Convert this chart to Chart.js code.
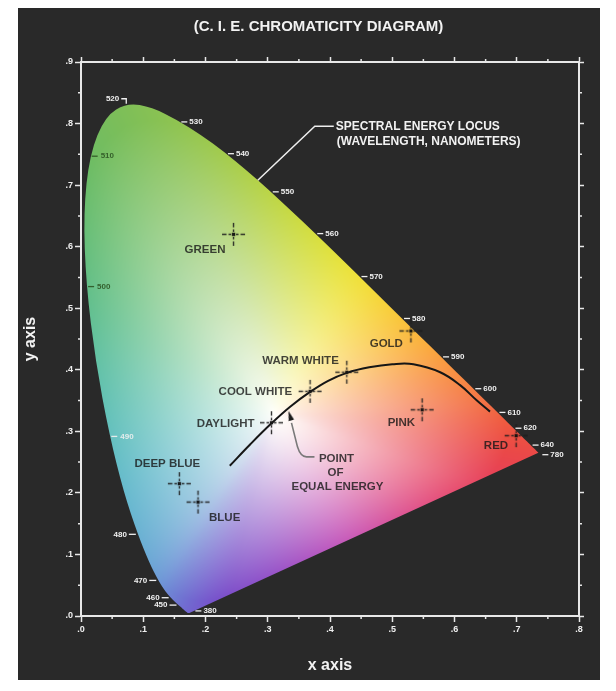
<!DOCTYPE html>
<html>
<head>
<meta charset="utf-8">
<title>C.I.E. Chromaticity Diagram</title>
<script src="https://cdn.jsdelivr.net/npm/chart.js@4.4.1/dist/chart.umd.min.js"></script>
<style>
html,body{margin:0;padding:0;background:#ffffff;}
#wrap{width:616px;height:691px;position:relative;}
canvas{display:block;}
</style>
</head>
<body>
<div id="wrap"><canvas id="chart" width="616" height="691"></canvas></div>
<script>
// ================= DATA =================
// Spectral locus (chromaticity x, y per wavelength, nm)
const locusWavelengths = [380,385,390,395,400,405,410,415,420,425,430,435,440,445,450,455,460,465,470,475,480,485,490,495,500,505,510,515,520,525,530,535,540,545,550,555,560,565,570,575,580,585,590,595,600,605,610,615,620,625,630,635,640,645,650,660,670,680,700,780];
const locusX = [0.1741,0.1740,0.1738,0.1736,0.1733,0.1730,0.1726,0.1721,0.1714,0.1703,0.1689,0.1669,0.1644,0.1611,0.1566,0.1510,0.1440,0.1355,0.1241,0.1096,0.0913,0.0687,0.0454,0.0235,0.0082,0.0039,0.0139,0.0389,0.0743,0.1142,0.1547,0.1929,0.2296,0.2658,0.3016,0.3373,0.3731,0.4087,0.4441,0.4788,0.5125,0.5448,0.5752,0.6029,0.6270,0.6482,0.6658,0.6801,0.6915,0.7006,0.7079,0.7140,0.7190,0.7230,0.7260,0.7300,0.7320,0.7334,0.7347,0.7347];
const locusY = [0.0050,0.0050,0.0049,0.0049,0.0048,0.0048,0.0048,0.0048,0.0051,0.0058,0.0069,0.0086,0.0109,0.0138,0.0177,0.0227,0.0297,0.0399,0.0578,0.0868,0.1327,0.2007,0.2950,0.4127,0.5384,0.6548,0.7502,0.8120,0.8338,0.8262,0.8059,0.7816,0.7543,0.7243,0.6923,0.6589,0.6245,0.5896,0.5547,0.5202,0.4866,0.4544,0.4242,0.3965,0.3725,0.3514,0.3340,0.3197,0.3083,0.2993,0.2920,0.2859,0.2809,0.2770,0.2740,0.2700,0.2680,0.2666,0.2653,0.2653];
// Wavelengths that carry a label on the locus
const labeledWavelengths = [380,450,460,470,480,490,500,510,520,530,540,550,560,570,580,590,600,610,620,640,780];
// Black-body (white) curve
const planckX = [0.239,0.272,0.306,0.336,0.368,0.397,0.427,0.463,0.500,0.534,0.577,0.609,0.636,0.657];
const planckY = [0.244,0.279,0.313,0.340,0.364,0.382,0.395,0.404,0.409,0.409,0.396,0.375,0.350,0.332];
// Named colour points
const markerNames = ['GREEN','GOLD','WARM WHITE','COOL WHITE','DAYLIGHT','PINK','RED','DEEP BLUE','BLUE'];
const markerX = [0.245,0.530,0.427,0.368,0.306,0.548,0.699,0.158,0.188];
const markerY = [0.620,0.463,0.396,0.365,0.314,0.335,0.293,0.215,0.185];
// Point of equal energy
const equalEnergyX = [0.3333];
const equalEnergyY = [0.3333];
// Callout anchor on the locus
const locusCalloutX = [0.284];
const locusCalloutY = [0.708];
// Axis ticks
const xTickValues = [0,0.1,0.2,0.3,0.4,0.5,0.6,0.7,0.8];
const xTickLabels = ['.0','.1','.2','.3','.4','.5','.6','.7','.8'];
const yTickValues = [0,0.1,0.2,0.3,0.4,0.5,0.6,0.7,0.8,0.9];
const yTickLabels = ['.0','.1','.2','.3','.4','.5','.6','.7','.8','.9'];
const xMinorTicks = [0.05,0.15,0.25,0.35,0.45,0.55,0.65,0.75];
const yMinorTicks = [0.05,0.15,0.25,0.35,0.45,0.55,0.65,0.75,0.85];

// ================= STYLE =================
const F = '"Liberation Sans", Arial, Helvetica, sans-serif';
const WHITE_PT = [0.31, 0.33];
const FILL_WHITE = [255,255,250];
const LOCUS_POWER = 0.88;   // whitening curve towards spectral colours
const PURPLE_POWER = 1.35;  // whitening curve towards the line of purples
const hueStops = [
  [380,[105,72,198]],[440,[110,100,212]],[455,[115,128,216]],[465,[112,150,216]],[475,[108,170,214]],
  [485,[102,186,206]],[492,[98,195,185]],[500,[96,190,132]],[510,[110,188,96]],[520,[128,190,86]],
  [535,[150,198,78]],[550,[186,212,66]],[560,[212,222,60]],[570,[240,228,56]],[580,[250,200,56]],
  [590,[250,160,60]],[600,[246,125,65]],[615,[240,95,65]],[640,[235,66,60]],[780,[232,56,58]]
];
const purpleStops = [[0,[232,56,58]],[0.3,[230,80,125]],[0.55,[200,90,188]],[0.8,[140,80,202]],[1,[105,72,198]]];
const wlLabelStyle = {520:'bracket',510:'in',500:'in',490:'in',480:'out',470:'out',460:'out',450:'out',380:'bottom'};
const markerLabelOffsets = {
  'GREEN':[-8,15,'right'],'GOLD':[-8,13,'right'],'WARM WHITE':[-8,-11,'right'],'COOL WHITE':[-18,1,'right'],
  'DAYLIGHT':[-17,1,'right'],'PINK':[-7,13,'right'],'RED':[-8,10,'right'],'DEEP BLUE':[-12,-20,'center'],'BLUE':[11,16,'left']
};

function lerp(a,b,t){return a+(b-a)*t;}
function lerpC(c1,c2,t){const o=[];for(let i=0;i<c1.length;i++)o.push(lerp(c1[i],c2[i],t));return o;}
function stopColor(stops,v){
  if (v<=stops[0][0]) return stops[0][1];
  for (let i=1;i<stops.length;i++){
    if (v<=stops[i][0]){const t=(v-stops[i-1][0])/(stops[i][0]-stops[i-1][0]);return lerpC(stops[i-1][1],stops[i][1],t);}
  }
  return stops[stops.length-1][1];
}

function makeCross(){
  const s=27,c=document.createElement('canvas');c.width=s;c.height=s;
  const g=c.getContext('2d');const m=13.5;
  g.strokeStyle='rgba(30,30,30,0.9)';g.lineWidth=1.4;
  for (const [r1,r2] of [[2.5,5],[7,11.5]]){
    g.beginPath();
    g.moveTo(m+r1,m);g.lineTo(m+r2,m);g.moveTo(m-r1,m);g.lineTo(m-r2,m);
    g.moveTo(m,m+r1);g.lineTo(m,m+r2);g.moveTo(m,m-r1);g.lineTo(m,m-r2);
    g.stroke();
  }
  g.fillStyle='rgba(15,15,15,0.95)';g.fillRect(m-1.7,m-1.7,3.4,3.4);
  return c;
}
function makeArrow(){
  const c=document.createElement('canvas');c.width=8;c.height=26;
  const g=c.getContext('2d');
  g.fillStyle='#1c1c1c';g.beginPath();g.moveTo(4,13);g.lineTo(6.8,23);g.lineTo(1.2,23);g.closePath();g.fill();
  return c;
}

let fillPattern=null;
function buildPattern(chart){
  const a=chart.chartArea, xs=chart.scales.x, ys=chart.scales.y;
  const pts=[];
  // c = [r,g,b,power]
  for (let i=0;i<locusWavelengths.length;i++) pts.push({x:locusX[i],y:locusY[i],c:stopColor(hueStops,locusWavelengths[i]).concat([LOCUS_POWER])});
  const pa=pts[pts.length-1], pb=pts[0];
  for (let k=1;k<30;k++){const t=k/30;const pw=lerp(LOCUS_POWER,PURPLE_POWER,Math.sin(Math.PI*t));pts.push({x:lerp(pa.x,pb.x,t),y:lerp(pa.y,pb.y,t),c:stopColor(purpleStops,t).concat([pw])});}
  const N=2048,R=new Float32Array(N),C=new Array(N),n=pts.length;
  for (let b=0;b<N;b++){
    const th=-Math.PI+(b+0.5)/N*2*Math.PI, dx=Math.cos(th), dy=Math.sin(th);
    let best=Infinity,col=[255,255,255,1];
    for (let i=0;i<n;i++){
      const P=pts[i],Q=pts[(i+1)%n];const ex=Q.x-P.x,ey=Q.y-P.y;
      const den=dx*ey-dy*ex; if (Math.abs(den)<1e-12) continue;
      const wx=P.x-WHITE_PT[0],wy=P.y-WHITE_PT[1];
      const t=(wx*ey-wy*ex)/den,u=(wx*dy-wy*dx)/den;
      if (t>0&&u>=-1e-9&&u<=1+1e-9&&t<best){best=t;col=lerpC(P.c,Q.c,Math.min(1,Math.max(0,u)));}
    }
    R[b]=best;C[b]=col;
  }
  // smooth distance and hue around the white point (avoids streaks at the two corners)
  const RS=new Float32Array(N),CS=new Array(N),HW=70,HC=55;
  for (let b=0;b<N;b++){
    let s=0;for(let k=-HW;k<=HW;k++){s+=R[(b+k+N)%N];}RS[b]=s/(2*HW+1);
    const acc=[0,0,0,0];for(let k=-HC;k<=HC;k++){const cc=C[(b+k+N)%N];for(let q=0;q<4;q++)acc[q]+=cc[q];}
    const m=2*HC+1;CS[b]=acc.map(v=>v/m);
  }
  const cnv=document.createElement('canvas');cnv.width=chart.width;cnv.height=chart.height;
  const g=cnv.getContext('2d');
  const x0=Math.floor(a.left)-2,y0=Math.floor(a.top)-2,w=Math.ceil(a.right)-x0+4,h=Math.ceil(a.bottom)-y0+4;
  const img=g.createImageData(w,h);const d=img.data;
  const xv=new Float64Array(w),yv=new Float64Array(h);
  for (let i=0;i<w;i++) xv[i]=xs.getValueForPixel(x0+i+0.5);
  for (let j=0;j<h;j++) yv[j]=ys.getValueForPixel(y0+j+0.5);
  for (let j=0;j<h;j++){
    for (let i=0;i<w;i++){
      const dx=xv[i]-WHITE_PT[0],dy=yv[j]-WHITE_PT[1];
      const r=Math.sqrt(dx*dx+dy*dy);
      let b=Math.floor((Math.atan2(dy,dx)+Math.PI)/(2*Math.PI)*N); if(b<0)b=0; if(b>=N)b=N-1;
      const c=CS[b];
      const s=Math.min(1,r/RS[b]);const gg=Math.pow(s,c[3]);
      const k=(j*w+i)*4;
      d[k]=FILL_WHITE[0]+(c[0]-FILL_WHITE[0])*gg;
      d[k+1]=FILL_WHITE[1]+(c[1]-FILL_WHITE[1])*gg;
      d[k+2]=FILL_WHITE[2]+(c[2]-FILL_WHITE[2])*gg;
      d[k+3]=255;
    }
  }
  g.putImageData(img,x0,y0);
  return chart.ctx.createPattern(cnv,'no-repeat');
}

const backgroundPlugin={
  id:'cieBackground',
  beforeDraw(chart){
    const c=chart.ctx;c.save();
    c.fillStyle='#ffffff';c.fillRect(0,0,chart.width,chart.height);
    c.fillStyle='#292929';c.fillRect(18,8,582,672);
    c.restore();
  }
};

const fillPlugin={
  id:'cieFill',
  beforeDatasetsDraw(chart){
    if (!fillPattern) fillPattern=buildPattern(chart);
    const p=chart.getDatasetMeta(0).data;const c=chart.ctx;
    c.save();c.beginPath();c.moveTo(p[0].x,p[0].y);
    for (let i=1;i<p.length-1;i++){
      const mx=(p[i].x+p[i+1].x)/2,my=(p[i].y+p[i+1].y)/2;
      c.quadraticCurveTo(p[i].x,p[i].y,mx,my);
    }
    c.lineTo(p[p.length-1].x,p[p.length-1].y);c.closePath();
    c.fillStyle=fillPattern;c.fill();
    c.restore();
  }
};

function txt(c,s,x,y,align,font,color){c.font=font;c.fillStyle=color;c.textAlign=align;c.textBaseline='middle';c.fillText(s,x,y);}
function seg(c,pts,color,w){c.strokeStyle=color;c.lineWidth=w;c.beginPath();c.moveTo(pts[0][0],pts[0][1]);for(let i=1;i<pts.length;i++)c.lineTo(pts[i][0],pts[i][1]);c.stroke();}

const annotationPlugin={
  id:'cieAnnotations',
  afterDatasetsDraw(chart){
    const c=chart.ctx,xs=chart.scales.x,ys=chart.scales.y,a=chart.chartArea;
    c.save();
    // minor ticks
    c.strokeStyle='#e6e6e6';c.lineWidth=1.5;c.beginPath();
    for (const v of xMinorTicks){const px=xs.getPixelForValue(v);c.moveTo(px,a.bottom);c.lineTo(px,a.bottom+3);c.moveTo(px,a.top);c.lineTo(px,a.top-3);}
    for (const v of yMinorTicks){const py=ys.getPixelForValue(v);c.moveTo(a.left-3,py);c.lineTo(a.left,py);c.moveTo(a.right,py);c.lineTo(a.right+3,py);}
    c.stroke();
    // wavelength labels
    const wf='bold 8px '+F;
    for (const wl of labeledWavelengths){
      const i=locusWavelengths.indexOf(wl);
      const px=xs.getPixelForValue(locusX[i]),py=ys.getPixelForValue(locusY[i]);
      const st=wlLabelStyle[wl]||'right';
      if (st==='right'){seg(c,[[px+4,py+2],[px+10,py+2]],'#f0f0f0',1.3);txt(c,String(wl),px+12,py+2,'left',wf,'#f0f0f0');}
      else if (st==='bracket'){seg(c,[[px-6,py-4],[px-1,py-4],[px-1,py+1]],'#f0f0f0',1.3);txt(c,String(wl),px-8,py-4,'right',wf,'#f0f0f0');}
      else if (st==='in'){const col=wl===490?'rgba(240,240,240,0.9)':'rgba(45,85,35,0.9)';seg(c,[[px+2,py+2],[px+8,py+2]],col,1.3);txt(c,String(wl),px+11,py+2,'left',wf,col);}
      else if (st==='out'){seg(c,[[px-9,py],[px-2,py]],'#f0f0f0',1.3);txt(c,String(wl),px-11,py,'right',wf,'#f0f0f0');}
      else if (st==='bottom'){seg(c,[[px+6,py-2],[px+12,py-2]],'#f0f0f0',1.3);txt(c,String(wl),px+14,py-2,'left',wf,'#f0f0f0');}
    }
    // marker labels
    const mf='bold 11.5px '+F;
    for (let i=0;i<markerNames.length;i++){
      const o=markerLabelOffsets[markerNames[i]];
      const px=xs.getPixelForValue(markerX[i]),py=ys.getPixelForValue(markerY[i]);
      txt(c,markerNames[i],px+o[0],py+o[1],o[2],mf,'rgba(22,22,22,0.8)');
    }
    // point of equal energy callout
    const ex=xs.getPixelForValue(equalEnergyX[0]),ey=ys.getPixelForValue(equalEnergyY[0]);
    c.strokeStyle='rgba(115,115,115,0.95)';c.lineWidth=1.6;c.beginPath();
    c.moveTo(ex+3,ey+12);c.lineTo(ex+9,ey+36);c.quadraticCurveTo(ex+12,ey+46,ex+18,ey+46);c.lineTo(ex+26,ey+46);c.stroke();
    txt(c,'POINT',ex+48,ey+48,'center',mf,'rgba(22,22,22,0.8)');
    txt(c,'OF',ex+47,ey+62,'center',mf,'rgba(22,22,22,0.8)');
    txt(c,'EQUAL ENERGY',ex+49,ey+76,'center',mf,'rgba(22,22,22,0.8)');
    // spectral locus callout
    const lx=xs.getPixelForValue(locusCalloutX[0]),ly=ys.getPixelForValue(locusCalloutY[0]);
    seg(c,[[lx,ly],[lx+57,ly-54],[lx+76,ly-54]],'#eeeeee',1.5);
    txt(c,'SPECTRAL ENERGY LOCUS',lx+78,ly-53,'left','bold 12px '+F,'#f2f2f2');
    txt(c,'(WAVELENGTH, NANOMETERS)',lx+79,ly-38,'left','bold 12px '+F,'#f2f2f2');
    c.restore();
  }
};

const locusPts=locusX.map((x,i)=>({x,y:locusY[i]}));
const planckPts=planckX.map((x,i)=>({x,y:planckY[i]}));
const markerPts=markerX.map((x,i)=>({x,y:markerY[i]}));
const eePts=equalEnergyX.map((x,i)=>({x,y:equalEnergyY[i]}));

const frame={display:true,color:'#e8e8e8',width:2};
const tickFont={family:F,size:9,weight:'bold'};

new Chart(document.getElementById('chart'),{
  type:'scatter',
  data:{datasets:[
    {label:'Spectral locus',data:locusPts,showLine:false,pointRadius:0,borderWidth:0},
    {label:'Black-body curve',data:planckPts,showLine:true,borderColor:'#161616',borderWidth:2,pointRadius:0,tension:0.4,fill:false},
    {label:'Colours',data:markerPts,pointStyle:makeCross(),pointRadius:13},
    {label:'Equal energy',data:eePts,pointStyle:makeArrow(),pointRadius:13,rotation:-17}
  ]},
  options:{
    responsive:false,animation:false,events:[],
    layout:{padding:{left:21,right:0,top:0,bottom:0}},
    plugins:{
      legend:{display:false},tooltip:{enabled:false},
      title:{display:true,text:'(C. I. E. CHROMATICITY DIAGRAM)',color:'#f2f2f2',font:{family:F,size:15,weight:'bold'},padding:{top:18,bottom:21}}
    },
    scales:{
      x:{type:'linear',position:'bottom',min:0,max:0.8,
        afterBuildTicks:s=>{s.ticks=xTickValues.map(v=>({value:v}));},
        ticks:{color:'#f0f0f0',font:tickFont,padding:2,maxRotation:0,autoSkip:false,callback:(v,i)=>xTickLabels[i]},
        grid:{drawOnChartArea:false,drawTicks:true,tickLength:6,tickColor:'#e8e8e8',tickWidth:1.5},
        border:frame,
        title:{display:true,text:'x axis',color:'#f2f2f2',font:{family:F,size:16,weight:'bold'},padding:{top:19.6,bottom:15.4}}},
      y:{type:'linear',position:'left',min:0,max:0.9,
        afterBuildTicks:s=>{s.ticks=yTickValues.map(v=>({value:v}));},
        ticks:{color:'#f0f0f0',font:tickFont,padding:2,autoSkip:false,callback:(v,i)=>yTickLabels[i]},
        grid:{drawOnChartArea:false,drawTicks:true,tickLength:6,tickColor:'#e8e8e8',tickWidth:1.5},
        border:frame,
        title:{display:true,text:'y axis',color:'#f2f2f2',font:{family:F,size:16,weight:'bold'},padding:{top:0.4,bottom:22.9}}},
      x2:{type:'linear',position:'top',min:0,max:0.8,
        afterBuildTicks:s=>{s.ticks=xTickValues.map(v=>({value:v}));},
        ticks:{display:false},
        grid:{drawOnChartArea:false,drawTicks:true,tickLength:5,tickColor:'#e8e8e8',tickWidth:1.5},
        border:frame},
      y2:{type:'linear',position:'right',min:0,max:0.9,
        afterBuildTicks:s=>{s.ticks=yTickValues.map(v=>({value:v}));},
        ticks:{display:false},
        grid:{drawOnChartArea:false,drawTicks:true,tickLength:5,tickColor:'#e8e8e8',tickWidth:1.5},
        border:frame,
        title:{display:true,text:' ',color:'rgba(0,0,0,0)',font:{family:F,size:10},padding:{top:0,bottom:20}}}
    }
  },
  plugins:[backgroundPlugin,fillPlugin,annotationPlugin]
});
</script>
</body>
</html>
